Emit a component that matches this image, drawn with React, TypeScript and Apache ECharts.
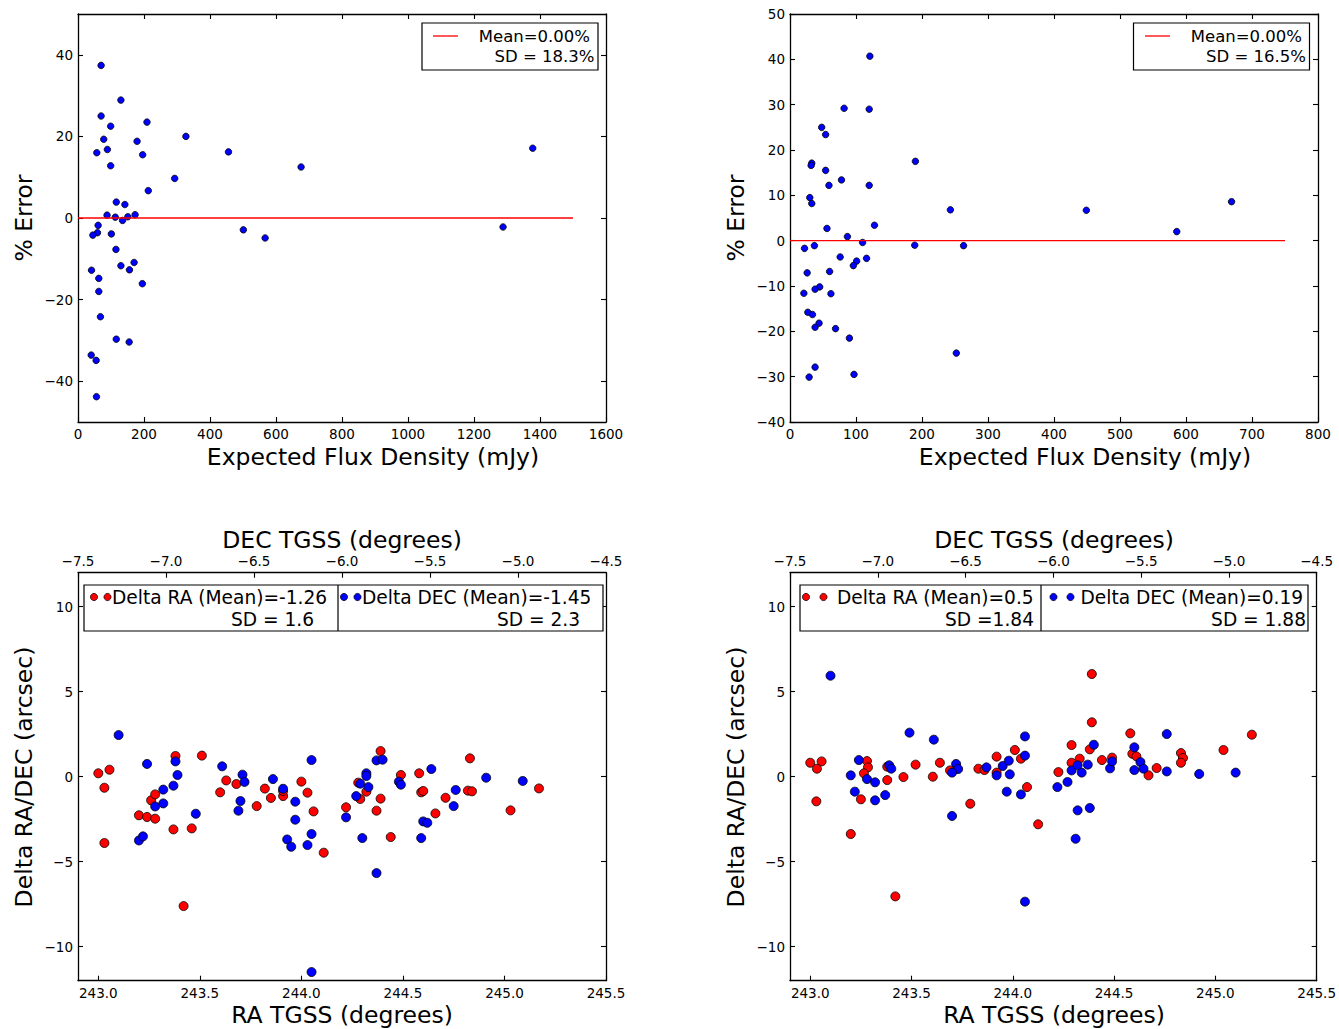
import React, { useEffect, useRef } from "react";
import * as echarts from "echarts";

const FONT = '"DejaVu Sans", sans-serif';

// Panel 1 (top-left): expected flux density vs % error
const p1Flux = [70, 130, 70, 209, 99, 78, 327, 179, 89, 57, 196, 456, 99, 293, 213, 116, 142, 88, 113, 173, 151, 135, 61, 59, 45, 101, 501, 567, 115, 130, 170, 156, 41, 63, 195, 63, 68, 116, 155, 40, 55, 56, 676, 1288, 1378];
const p1Err = [37.4, 28.9, 25.0, 23.5, 22.5, 19.3, 20.0, 18.8, 16.8, 16.0, 15.5, 16.2, 12.8, 9.7, 6.7, 3.9, 3.3, 0.7, 0.2, 0.8, 0.3, -0.6, -1.8, -3.6, -4.2, -3.9, -2.9, -4.9, -7.7, -11.7, -10.9, -12.7, -12.8, -14.8, -16.1, -18.0, -24.2, -29.7, -30.4, -33.6, -34.9, -43.8, 12.5, -2.2, 17.1];
const p1MeanX = [0, 1500];
const p1MeanY = [0, 0];

// Panel 2 (top-right)
const p2Flux = [121, 82, 120, 48, 54, 33, 32, 190, 54, 78, 59, 120, 30, 33, 243, 128, 56, 87, 110, 37, 189, 263, 22, 76, 116, 101, 96, 60, 26, 45, 38, 21, 62, 27, 34, 44, 38, 69, 90, 252, 38, 29, 97, 449, 586, 669];
const p2Err = [40.7, 29.2, 29.0, 25.0, 23.4, 17.1, 16.6, 17.5, 15.5, 13.4, 12.2, 12.2, 9.5, 8.2, 6.8, 3.4, 2.7, 0.9, -0.4, -1.1, -1.0, -1.1, -1.7, -3.6, -3.9, -4.5, -5.5, -6.8, -7.1, -10.2, -10.7, -11.6, -11.7, -15.8, -16.3, -18.2, -19.1, -19.4, -21.5, -24.8, -27.9, -30.1, -29.5, 6.7, 2.0, 8.6];
const p2MeanX = [0, 750];
const p2MeanY = [0, 0];

// Panel 3 (bottom-left)
const p3RaRA = [243.0, 243.055, 243.03, 243.03, 243.2, 243.24, 243.28, 243.26, 243.28, 243.38, 243.37, 243.42, 243.46, 243.51, 243.6, 243.63, 243.68, 243.78, 243.82, 243.85, 243.91, 243.91, 244.0, 244.03, 244.06, 244.11, 244.39, 244.22, 244.29, 244.32, 244.39, 244.37, 244.44, 244.28, 244.49, 244.58, 244.59, 244.6, 244.66, 244.71, 244.83, 244.82, 244.84, 245.03, 245.17];
const p3RaDelta = [0.2, 0.41, -0.65, -3.9, -2.27, -2.37, -2.47, -1.39, -1.04, 1.22, -3.1, -7.61, -3.04, 1.24, -0.92, -0.22, -0.43, -1.73, -0.7, -1.25, -1.14, -0.84, -0.29, -0.94, -2.04, -4.47, 1.51, -1.8, -1.31, -0.88, -1.29, -2.0, -3.55, -0.35, 0.1, 0.2, -0.92, -0.84, -2.16, -1.24, 1.08, -0.82, -0.86, -1.98, -0.69];
const p3DecRA = [243.1, 243.24, 243.38, 243.39, 243.37, 243.32, 243.28, 243.32, 243.2, 243.22, 243.48, 243.61, 243.71, 243.72, 243.7, 243.69, 243.86, 243.91, 243.97, 243.97, 243.93, 243.95, 244.05, 244.05, 244.03, 244.05, 244.22, 244.27, 244.29, 244.32, 244.32, 244.33, 244.3, 244.37, 244.4, 244.37, 244.48, 244.49, 244.64, 244.6, 244.62, 244.59, 244.76, 244.75, 244.91, 245.09];
const p3DecDelta = [2.45, 0.75, 0.9, 0.1, -0.53, -0.76, -1.75, -1.57, -3.75, -3.51, -2.18, 0.61, 0.12, -0.31, -1.43, -2.0, -0.14, -0.71, -1.47, -2.53, -3.69, -4.12, 0.98, -3.37, -4.02, -11.49, -2.39, -1.14, -0.41, 0.2, 0.04, -0.61, -3.61, 0.96, 1.0, -5.67, -0.29, -0.47, 0.45, -2.63, -2.71, -3.61, -0.78, -1.73, -0.06, -0.25];

// Panel 4 (bottom-right)
const p4RaRA = [243.0, 243.056, 243.033, 243.03, 243.2, 243.28, 243.285, 243.265, 243.25, 243.38, 243.38, 243.42, 243.46, 243.52, 243.605, 243.64, 243.69, 243.79, 243.83, 243.86, 243.92, 243.92, 244.01, 244.04, 244.07, 244.125, 244.225, 244.29, 244.29, 244.33, 244.38, 244.39, 244.39, 244.44, 244.49, 244.58, 244.59, 244.61, 244.67, 244.71, 244.83, 244.84, 244.83, 245.04, 245.18];
const p4RaDelta = [0.82, 0.9, 0.47, -1.45, -3.37, 0.92, 0.55, 0.2, -1.33, -0.2, 0.59, -7.04, -0.02, 0.71, 0.0, 0.82, 0.37, -1.59, 0.47, 0.39, 1.18, 0.24, 1.57, 1.06, -0.61, -2.8, 0.27, 1.86, 0.82, 1.06, 1.61, 6.04, 3.2, 0.98, 1.12, 2.55, 1.35, 1.2, 0.08, 0.51, 1.39, 1.1, 0.82, 1.57, 2.47];
const p4DecRA = [243.1, 243.24, 243.2, 243.22, 243.28, 243.32, 243.32, 243.37, 243.39, 243.4, 243.49, 243.61, 243.72, 243.73, 243.7, 243.7, 243.87, 243.92, 243.95, 243.98, 243.985, 243.97, 244.04, 244.06, 244.06, 244.06, 244.22, 244.27, 244.29, 244.32, 244.34, 244.37, 244.4, 244.32, 244.38, 244.31, 244.48, 244.49, 244.6, 244.6, 244.63, 244.645, 244.76, 244.76, 244.92, 245.1];
const p4DecDelta = [5.94, 0.98, 0.08, -0.88, -0.14, -0.33, -1.39, -1.08, 0.67, 0.47, 2.59, 2.18, 0.75, 0.45, 0.24, -2.31, 0.55, 0.08, 0.63, 0.94, 0.14, -0.88, -1.04, 2.37, 1.24, -7.35, -0.61, -0.31, 0.37, 0.67, 0.24, 0.71, 1.88, -1.98, -1.84, -3.65, 0.49, 0.9, 1.73, 0.39, 0.86, 0.47, 2.51, 0.31, 0.16, 0.24];

// Tick values
const p1YTicks = [-40, -20, 0, 20, 40];
const raTicks = [243.0, 243.5, 244.0, 244.5, 245.0, 245.5];
const deltaTicks = [-10, -5, 0, 5, 10];

const zip = (xs: number[], ys: number[]) => xs.map((x, i) => [x, ys[i]]);
const minus = (s: string) => s.replace("-", "\u2212");
const fmt0 = (v: number) => minus(String(v));
const fmt1 = (v: number) => minus(v.toFixed(1));

const LINE = { color: "#000", width: 1.3 };

function axis(o: any) {
  const showLabel = o.showLabel !== false;
  const a: any = {
    type: "value",
    gridIndex: o.grid,
    position: o.position,
    min: o.min,
    max: o.max,
    axisLine: { show: true, onZero: false, lineStyle: LINE },
    axisTick: { show: true, inside: true, length: 5, lineStyle: { color: "#000", width: 1.1 } },
    splitLine: { show: false },
    axisLabel: {
      show: showLabel,
      color: "#000",
      fontSize: 13.5,
      fontFamily: FONT,
      margin: o.margin ?? 5,
      showMinLabel: true,
      showMaxLabel: true,
      formatter: o.fmt || fmt0,
    },
  };
  if (o.interval !== undefined) a.interval = o.interval;
  if (o.custom) {
    a.axisTick.customValues = o.custom;
    a.axisLabel.customValues = o.custom;
  }
  return a;
}

function scatter(data: number[][], xi: number, yi: number, color: string, size: number) {
  return {
    type: "scatter",
    xAxisIndex: xi,
    yAxisIndex: yi,
    data,
    symbol: "circle",
    symbolSize: size,
    itemStyle: { color, borderColor: "#000", borderWidth: 0.8, opacity: 1 },
    z: 3,
  };
}

function meanLine(data: number[][], xi: number, yi: number) {
  return {
    type: "line",
    xAxisIndex: xi,
    yAxisIndex: yi,
    data,
    symbol: "none",
    lineStyle: { color: "#ff0000", width: 1.3 },
    z: 5,
  };
}

function text(t: string, x: number, y: number, size: number, align = "center", rotation = 0) {
  return {
    type: "text",
    x,
    y,
    rotation,
    z: 100,
    style: {
      text: t,
      fill: "#000",
      fontSize: size,
      fontFamily: FONT,
      textAlign: align,
      textVerticalAlign: "middle",
    },
  };
}

function rect(x: number, y: number, w: number, h: number) {
  return {
    type: "rect",
    z: 99,
    shape: { x, y, width: w, height: h },
    style: { fill: "#fff", stroke: "#000", lineWidth: 1.2 },
  };
}

function seg(x1: number, y1: number, x2: number, y2: number, color: string, w = 1.2) {
  return { type: "line", z: 100, shape: { x1, y1, x2, y2 }, style: { stroke: color, lineWidth: w } };
}

function dot(cx: number, cy: number, color: string) {
  return {
    type: "circle",
    z: 100,
    shape: { cx, cy, r: 3.6 },
    style: { fill: color, stroke: "#000", lineWidth: 0.7 },
  };
}

export default function App() {
  const ref = useRef<HTMLDivElement>(null);
  useEffect(() => {
    document.body.style.margin = "0";
    if (!ref.current) return;
    const chart = echarts.init(ref.current, undefined, { renderer: "svg" });
    const GW = 528;
    const GH = 408;
    const option: any = {
      animation: false,
      backgroundColor: "#fff",
      textStyle: { fontFamily: FONT },
      grid: [
        { left: 78, top: 14, width: GW, height: GH },
        { left: 790, top: 14, width: GW, height: GH },
        { left: 78, top: 572.7, width: GW, height: GH },
        { left: 790, top: 572.7, width: GW, height: GH },
      ],
      xAxis: [
        axis({ grid: 0, position: "bottom", min: 0, max: 1600, interval: 200 }),
        axis({ grid: 0, position: "top", min: 0, max: 1600, interval: 200, showLabel: false }),
        axis({ grid: 1, position: "bottom", min: 0, max: 800, interval: 100 }),
        axis({ grid: 1, position: "top", min: 0, max: 800, interval: 100, showLabel: false }),
        axis({ grid: 2, position: "bottom", min: 242.9, max: 245.5, custom: raTicks, fmt: fmt1 }),
        axis({ grid: 2, position: "top", min: -7.5, max: -4.5, interval: 0.5, fmt: fmt1 }),
        axis({ grid: 3, position: "bottom", min: 242.9, max: 245.5, custom: raTicks, fmt: fmt1 }),
        axis({ grid: 3, position: "top", min: -7.5, max: -4.5, interval: 0.5, fmt: fmt1 }),
      ],
      yAxis: [
        axis({ grid: 0, position: "left", min: -50, max: 50, custom: p1YTicks }),
        axis({ grid: 0, position: "right", min: -50, max: 50, custom: p1YTicks, showLabel: false }),
        axis({ grid: 1, position: "left", min: -40, max: 50, interval: 10 }),
        axis({ grid: 1, position: "right", min: -40, max: 50, interval: 10, showLabel: false }),
        axis({ grid: 2, position: "left", min: -12, max: 12, custom: deltaTicks }),
        axis({ grid: 2, position: "right", min: -12, max: 12, custom: deltaTicks, showLabel: false }),
        axis({ grid: 3, position: "left", min: -12, max: 12, custom: deltaTicks }),
        axis({ grid: 3, position: "right", min: -12, max: 12, custom: deltaTicks, showLabel: false }),
      ],
      series: [
        scatter(zip(p1Flux, p1Err), 0, 0, "#0000ff", 6.5),
        meanLine(zip(p1MeanX, p1MeanY), 0, 0),
        scatter(zip(p2Flux, p2Err), 2, 2, "#0000ff", 6.5),
        meanLine(zip(p2MeanX, p2MeanY), 2, 2),
        scatter(zip(p3RaRA, p3RaDelta), 4, 4, "#ff0000", 9),
        scatter(zip(p3DecRA, p3DecDelta), 4, 4, "#0000ff", 9),
        scatter(zip(p4RaRA, p4RaDelta), 6, 6, "#ff0000", 9),
        scatter(zip(p4DecRA, p4DecDelta), 6, 6, "#0000ff", 9),
      ],
      graphic: [
        // axis titles
        text("Expected Flux Density (mJy)", 373, 457, 23.5),
        text("Expected Flux Density (mJy)", 1085, 457, 23.5),
        text("% Error", 24, 218, 23.5, "center", Math.PI / 2),
        text("% Error", 736, 218, 23.5, "center", Math.PI / 2),
        text("DEC TGSS (degrees)", 342, 540, 23.5),
        text("DEC TGSS (degrees)", 1054, 540, 23.5),
        text("RA TGSS (degrees)", 342, 1015, 23.5),
        text("RA TGSS (degrees)", 1054, 1015, 23.5),
        text("Delta RA/DEC (arcsec)", 24, 777, 23.5, "center", Math.PI / 2),
        text("Delta RA/DEC (arcsec)", 736, 777, 23.5, "center", Math.PI / 2),
        // legend panel 1
        rect(422, 23, 176, 47),
        seg(433, 36, 458, 36, "#ff0000", 1.3),
        text("Mean=0.00%", 590, 36, 16.5, "right"),
        text("SD = 18.3%", 594.5, 56, 16.5, "right"),
        // legend panel 2
        rect(1133.5, 23, 176, 47),
        seg(1145, 36, 1170, 36, "#ff0000", 1.3),
        text("Mean=0.00%", 1302, 36, 16.5, "right"),
        text("SD = 16.5%", 1306, 56, 16.5, "right"),
        // legend panel 3
        rect(84, 585, 519, 46),
        seg(338, 585, 338, 631, "#000", 1.2),
        dot(94, 597, "#ff0000"),
        dot(107.5, 597, "#ff0000"),
        text("Delta RA (Mean)=-1.26", 112, 597, 18.6, "left"),
        text("SD = 1.6", 314, 619, 18.6, "right"),
        dot(344, 597, "#0000ff"),
        dot(357.5, 597, "#0000ff"),
        text("Delta DEC (Mean)=-1.45", 362, 597, 18.6, "left"),
        text("SD = 2.3", 580, 619, 18.6, "right"),
        // legend panel 4
        rect(800, 585, 508, 46),
        seg(1041, 585, 1041, 631, "#000", 1.2),
        dot(806, 597, "#ff0000"),
        dot(823.5, 597, "#ff0000"),
        text("Delta RA (Mean)=0.5", 837, 597, 18.6, "left"),
        text("SD =1.84", 1034, 619, 18.6, "right"),
        dot(1053.5, 597, "#0000ff"),
        dot(1070.5, 597, "#0000ff"),
        text("Delta DEC (Mean)=0.19", 1080.5, 597, 18.6, "left"),
        text("SD = 1.88", 1306, 619, 18.6, "right"),
      ],
    };
    chart.setOption(option);
    return () => chart.dispose();
  }, []);
  return <div ref={ref} style={{ width: 1339, height: 1029 }} />;
}
